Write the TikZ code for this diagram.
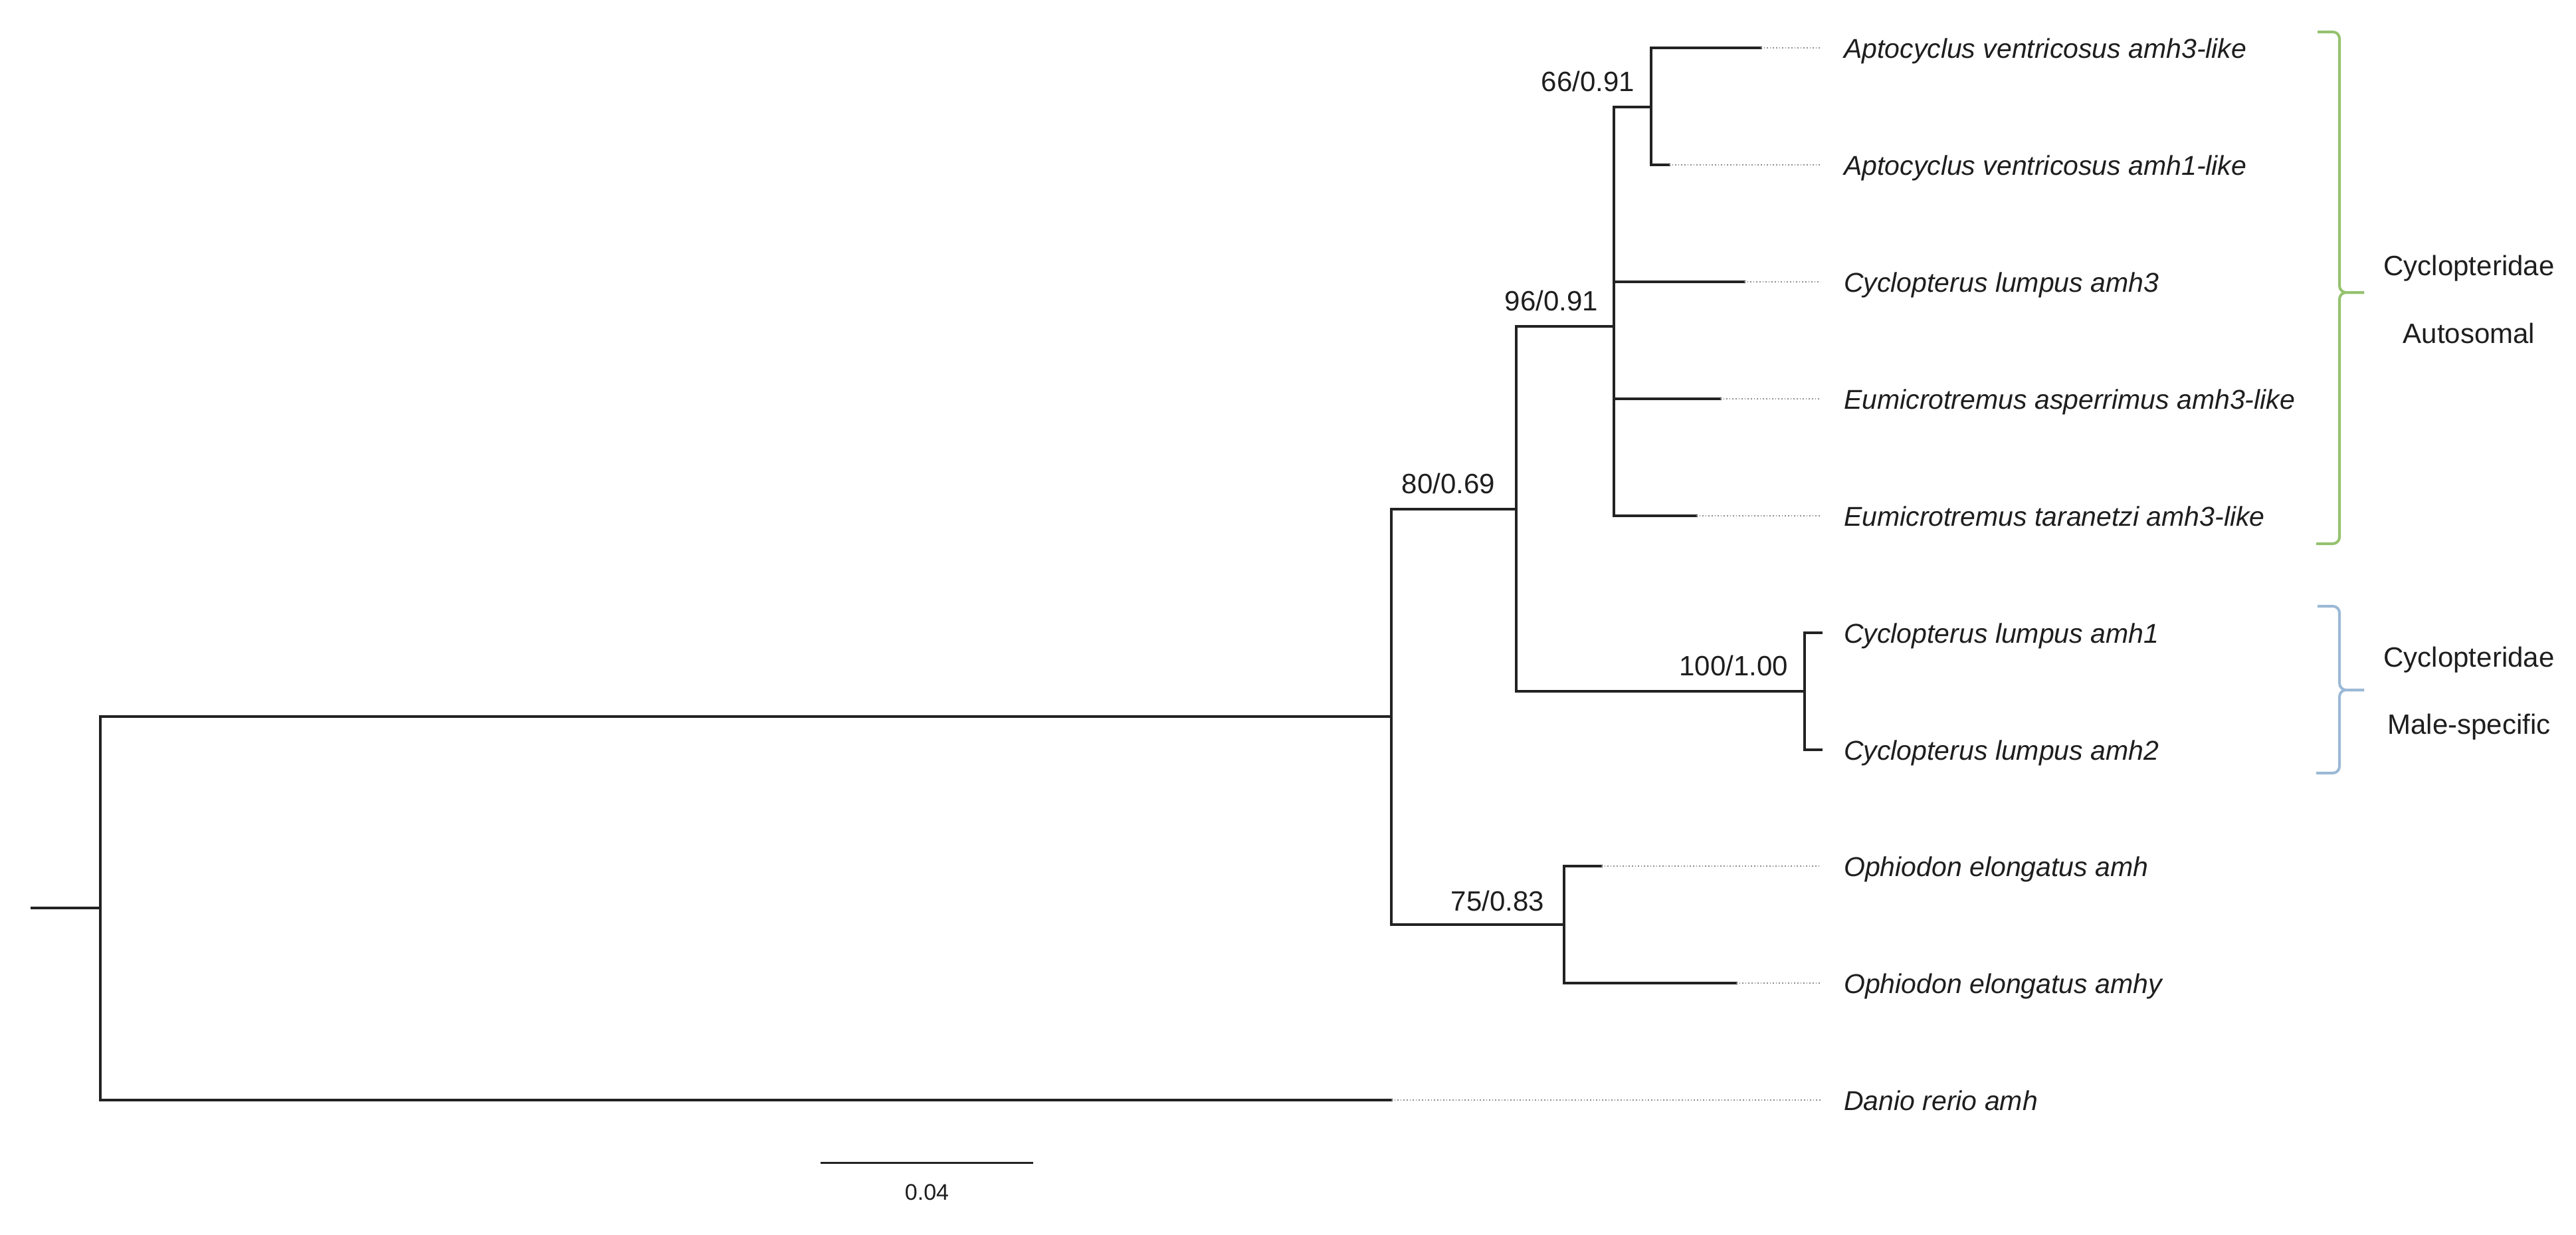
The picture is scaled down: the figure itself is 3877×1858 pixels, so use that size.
\documentclass[tikz,border=0pt]{standalone}
\usepackage{fontspec}
\setmainfont{Liberation Sans}
\usetikzlibrary{calc}
\definecolor{branchc}{HTML}{222222}
\definecolor{txt}{HTML}{1E1E1E}
\definecolor{bgreen}{HTML}{94C26E}
\definecolor{bblue}{HTML}{9BB9D6}
\definecolor{leadc}{HTML}{8C8C8C}
\begin{document}
\begin{tikzpicture}[x=1pt,y=-1pt,
  branch/.style={draw=branchc, line width=3.2pt, line cap=rect},
  leader/.style={draw=leadc, line width=1.6pt, dash pattern=on 1.6pt off 3pt},
  leaf/.style={anchor=base west, inner sep=0pt, font=\fontsize{41}{49}\selectfont\itshape, text=txt},
  supp/.style={anchor=base east, inner sep=0pt, font=\fontsize{42}{50}\selectfont, text=txt},
  grp/.style={anchor=base, inner sep=0pt, font=\fontsize{42}{50}\selectfont, text=txt},
  brace/.style={line width=4pt, rounded corners=10pt}
]
\useasboundingbox[fill=white] (0,0) rectangle (3877,1858);

% tree nodes
\coordinate (r0) at (48,1366);
\coordinate (root) at (151,1366);
\coordinate (nX) at (2094,1078);
\coordinate (n80) at (2282,766);
\coordinate (n75) at (2354,1391);
\coordinate (n96) at (2429,491);
\coordinate (n100) at (2716,1040);
\coordinate (n66) at (2485,161);
% leaf tips
\coordinate (a3) at (2650,72);
\coordinate (a1) at (2512,248);
\coordinate (c3) at (2625,424);
\coordinate (ea) at (2589,600);
\coordinate (et) at (2553,776);
\coordinate (c1) at (2741,952);
\coordinate (c2) at (2741,1128);
\coordinate (oa) at (2410,1303);
\coordinate (oy) at (2613,1479);
\coordinate (dr) at (2094,1655);
\coordinate (lead) at (2740,0);

% branches
\draw[branch] (r0) -- (root);
\draw[branch] (root) |- (nX);
\draw[branch] (root) |- (dr);
\draw[branch] (nX) |- (n80);
\draw[branch] (nX) |- (n75);
\draw[branch] (n80) |- (n96);
\draw[branch] (n80) |- (n100);
\draw[branch] (n96) |- (n66);
\draw[branch] (n96) |- (c3);
\draw[branch] (n96) |- (ea);
\draw[branch] (n96) |- (et);
\draw[branch] (n66) |- (a3);
\draw[branch] (n66) |- (a1);
\draw[branch] (n100) |- (c1);
\draw[branch] (n100) |- (c2);
\draw[branch] (n75) |- (oa);
\draw[branch] (n75) |- (oy);

% dotted leaders
\foreach \t in {a3,a1,c3,ea,et,oa,oy,dr}{
  \draw[leader] (\t) -- (\t -| lead);
}

% leaf labels
\node[leaf] (La3) at (2775,87) {Aptocyclus ventricosus amh3-like};
\node[leaf] (La1) at (2775,263) {Aptocyclus ventricosus amh1-like};
\node[leaf] (Lc3) at (2775,439) {Cyclopterus lumpus amh3};
\node[leaf] (Lea) at (2775,615) {Eumicrotremus asperrimus amh3-like};
\node[leaf] (Let) at (2775,791) {Eumicrotremus taranetzi amh3-like};
\node[leaf] (Lc1) at (2775,967) {Cyclopterus lumpus amh1};
\node[leaf] (Lc2) at (2775,1143) {Cyclopterus lumpus amh2};
\node[leaf] (Loa) at (2775,1318) {Ophiodon elongatus amh};
\node[leaf] (Loy) at (2775,1494) {Ophiodon elongatus amhy};
\node[leaf] (Ldr) at (2775,1670) {Danio rerio amh};

% support values
\node[supp] (s66) at ($(n66)+(-25,-24)$) {66/0.91};
\node[supp] (s96) at ($(n96)+(-24,-24)$) {96/0.91};
\node[supp] (s80) at ($(n80)+(-32,-24)$) {80/0.69};
\node[supp] (s100) at ($(n100)+(-25,-24)$) {100/1.00};
\node[supp] (s75) at ($(n75)+(-30,-21)$) {75/0.83};

% group brackets
\draw[brace, draw=bgreen] (3488,48) -- (3521,48) -- (3521,440) -- (3558,440);
\draw[brace, draw=bgreen] (3558,440) -- (3521,440) -- (3521,818) -- (3486,818);
\draw[brace, draw=bblue] (3488,912) -- (3521,912) -- (3521,1038) -- (3558,1038);
\draw[brace, draw=bblue] (3558,1038) -- (3521,1038) -- (3521,1163) -- (3486,1163);

\node[grp] (g1a) at (3716,414) {Cyclopteridae};
\node[grp] (g1b) at (3716,516) {Autosomal};
\node[grp] (g2a) at (3716,1003) {Cyclopteridae};
\node[grp] (g2b) at (3716,1104) {Male-specific};

% scale bar
\coordinate (sb1) at (1236,1749);
\coordinate (sb2) at (1553,1749);
\draw[branch, line width=3pt] (sb1) -- (sb2);
\node[anchor=base, inner sep=0pt, font=\fontsize{34}{40}\selectfont, text=txt] (sbl) at (1395,1805) {0.04};
\end{tikzpicture}
\end{document}
